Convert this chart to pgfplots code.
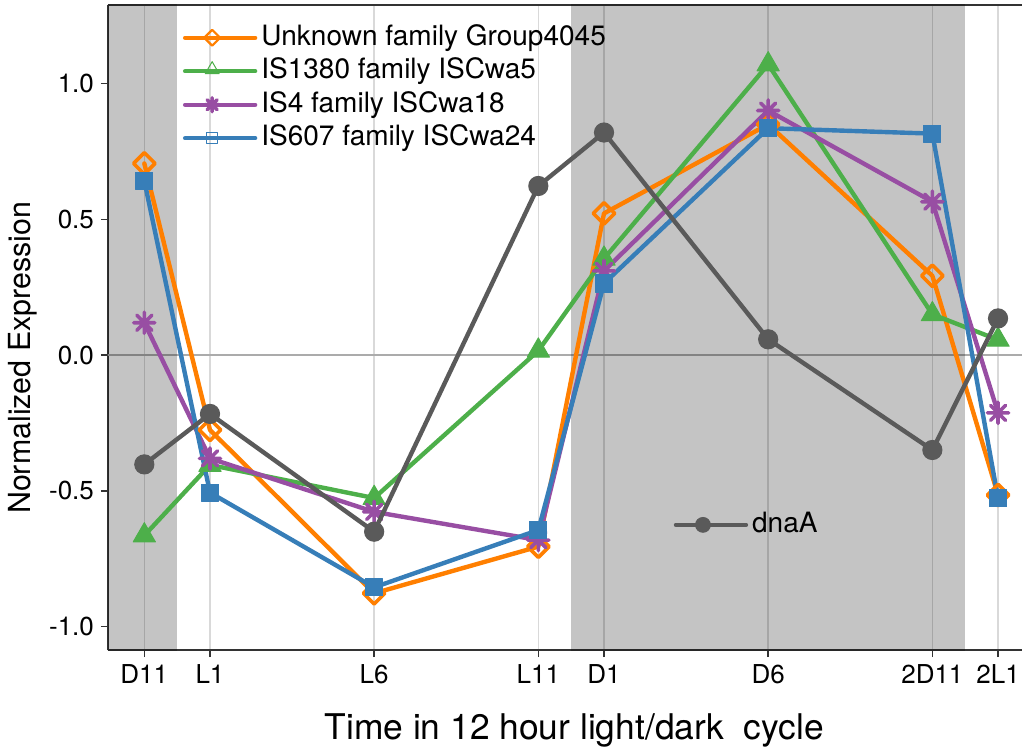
\documentclass[border=0pt]{standalone}
\usepackage{fontspec}
\setmainfont{TeX Gyre Heros}
\usepackage{pgfplots}
\usepackage{pgfplotstable}
\pgfplotsset{compat=1.18}

\definecolor{cOr}{HTML}{FF7F00}
\definecolor{cGr}{HTML}{4DAF4A}
\definecolor{cPu}{HTML}{984EA3}
\definecolor{cBl}{HTML}{377EB8}
\definecolor{cGy}{HTML}{5A5A5A}

\pgfdeclareplotmark{ast8}{%
  \pgfpathmoveto{\pgfqpoint{-\pgfplotmarksize}{0pt}}\pgfpathlineto{\pgfqpoint{\pgfplotmarksize}{0pt}}%
  \pgfpathmoveto{\pgfqpoint{0pt}{-\pgfplotmarksize}}\pgfpathlineto{\pgfqpoint{0pt}{\pgfplotmarksize}}%
  \pgfpathmoveto{\pgfqpoint{-.7071\pgfplotmarksize}{-.7071\pgfplotmarksize}}\pgfpathlineto{\pgfqpoint{.7071\pgfplotmarksize}{.7071\pgfplotmarksize}}%
  \pgfpathmoveto{\pgfqpoint{-.7071\pgfplotmarksize}{.7071\pgfplotmarksize}}\pgfpathlineto{\pgfqpoint{.7071\pgfplotmarksize}{-.7071\pgfplotmarksize}}%
  \pgfusepathqstroke}

\pgfplotstableread{
t  orange green  purple blue   dnaA
0   0.706 -0.665  0.119  0.642 -0.403
2  -0.276 -0.405 -0.381 -0.507 -0.217
7  -0.878 -0.527 -0.578 -0.856 -0.651
12 -0.706  0.016 -0.682 -0.645  0.623
14  0.522  0.355  0.310  0.264  0.820
19  0.850  1.071  0.901  0.836  0.058
24  0.292  0.150  0.565  0.816 -0.350
26 -0.516  0.056 -0.213 -0.528  0.135
}\datatable

\pgfplotsset{
  common/.style={
    scale only axis, width=457pt, height=322.5pt,
    xmin=-1.106, xmax=26.73, ymin=-1.087, ymax=1.29,
  },
  ser/.style={line width=2.2pt, line join=round, line cap=round},
}

\begin{document}
\begin{tikzpicture}
\begin{axis}[name=ax, common,
  axis x line*=box, axis y line*=left,
  axis line style={color=black!80, line width=1pt},
  xtick pos=left, ytick pos=left,
  xtick={0,2,7,12,14,19,24,26},
  xticklabels={D11,L1,L6,L11,D1,D6,2D11,2L1},
  ytick={-1,-0.5,0,0.5,1},
  yticklabels={-1.0,-0.5,0.0,0.5,1.0},
  tick align=outside, major tick length=3.5pt,
  tick style={color=black!80, line width=0.8pt},
  xmajorgrids, major grid style={color=black!15, line width=0.7pt},
  ticklabel style={font=\fontsize{13}{15}\selectfont},
  xlabel={Time in 12 hour light/dark\ \ cycle},
  xlabel style={font=\fontsize{17.7}{20}\selectfont, at={(axis description cs:0.510,-0.1395)}, anchor=base},
  ylabel={Normalized Expression},
  ylabel style={font=\fontsize{15.2}{18}\selectfont, at={(axis description cs:-0.093,0.453)}, anchor=center},
  legend style={draw=none, fill=none, at={(axis description cs:0.075,0.982)}, anchor=north west,
    font=\fontsize{14}{16}\selectfont, row sep=0pt,
    nodes={text height=10.5pt, text depth=3.25pt, inner ysep=1.5pt}},
  legend cell align=left,
]
\addplot[forget plot, color=black!33, line width=0.6pt] coordinates {(-2,0) (28,0)};
\addplot[forget plot, draw=none, fill=black, fill opacity=0.231, mark=none] coordinates {(-2,-2) (1,-2) (1,2) (-2,2)} -- cycle;
\addplot[forget plot, draw=none, fill=black, fill opacity=0.231, mark=none] coordinates {(13,-2) (25,-2) (25,2) (13,2)} -- cycle;

\addplot[cOr, ser, mark=square, mark size=3.8pt, mark options={rotate=45, line width=1.8pt, solid},
  legend image code/.code={
    \path (0pt,0pt) -- (35pt,0pt);
    \draw[cOr, line width=1.3pt] (0pt,0pt) -- (27pt,0pt);
    \draw[cOr, line width=1.1pt] plot[mark=square, mark size=2.8pt, mark options={rotate=45}] coordinates {(13.5pt,0pt)};}]
  table[x=t, y=orange] \datatable;
\addlegendentry{Unknown family Group4045}
\addplot[cGr, ser, mark=triangle*, mark size=6.4pt, mark options={line width=0.5pt, solid},
  legend image code/.code={
    \path (0pt,0pt) -- (35pt,0pt);
    \draw[cGr, line width=1.3pt] (0pt,0pt) -- (27pt,0pt);
    \draw[cGr, line width=1.1pt] plot[mark=triangle, mark size=4pt] coordinates {(13.5pt,0.8pt)};}]
  table[x=t, y=green] \datatable;
\addlegendentry{IS1380 family ISCwa5}
\addplot[cPu, ser, mark=ast8, mark size=5.3pt, mark options={line width=1.8pt, solid},
  legend image code/.code={
    \path (0pt,0pt) -- (35pt,0pt);
    \draw[cPu, line width=1.3pt] (0pt,0pt) -- (27pt,0pt);
    \draw[cPu, line width=1.2pt] plot[mark=ast8, mark size=3.5pt] coordinates {(13.5pt,0pt)};}]
  table[x=t, y=purple] \datatable;
\addlegendentry{IS4 family ISCwa18}
\addplot[cBl, ser, mark=square*, mark size=4.3pt, mark options={line width=0.5pt, solid},
  legend image code/.code={
    \path (0pt,0pt) -- (35pt,0pt);
    \draw[cBl, line width=1.3pt] (0pt,0pt) -- (27pt,0pt);
    \draw[cBl, line width=1.1pt] plot[mark=square, mark size=2.7pt] coordinates {(13.5pt,0pt)};}]
  table[x=t, y=blue] \datatable;
\addlegendentry{IS607 family ISCwa24}
\end{axis}

\begin{axis}[common, at={(ax.south west)}, anchor=south west, hide axis,
  legend style={draw=none, fill=none, at={(axis description cs:0.612,0.194)}, anchor=west,
    font=\fontsize{14}{16}\selectfont,
    nodes={text height=10.5pt, text depth=3.25pt, inner ysep=1.5pt}},
  legend cell align=left,
]
\addplot[cGy, ser, mark=*, mark size=4.8pt, mark options={line width=0.5pt, solid},
  legend image code/.code={
    \path (0pt,0pt) -- (35pt,0pt);
    \draw[cGy, line width=1.4pt] (0pt,0pt) -- (27pt,0pt);
    \draw[cGy] plot[mark=*, mark size=3.7pt] coordinates {(13.5pt,0pt)};}]
  table[x=t, y=dnaA] \datatable;
\addlegendentry{dnaA}
\end{axis}

\pgfresetboundingbox
\path ([shift={(-54pt,-50pt)}]ax.south west) rectangle ([shift={(0pt,2.5pt)}]ax.north east);
\end{tikzpicture}
\end{document}
